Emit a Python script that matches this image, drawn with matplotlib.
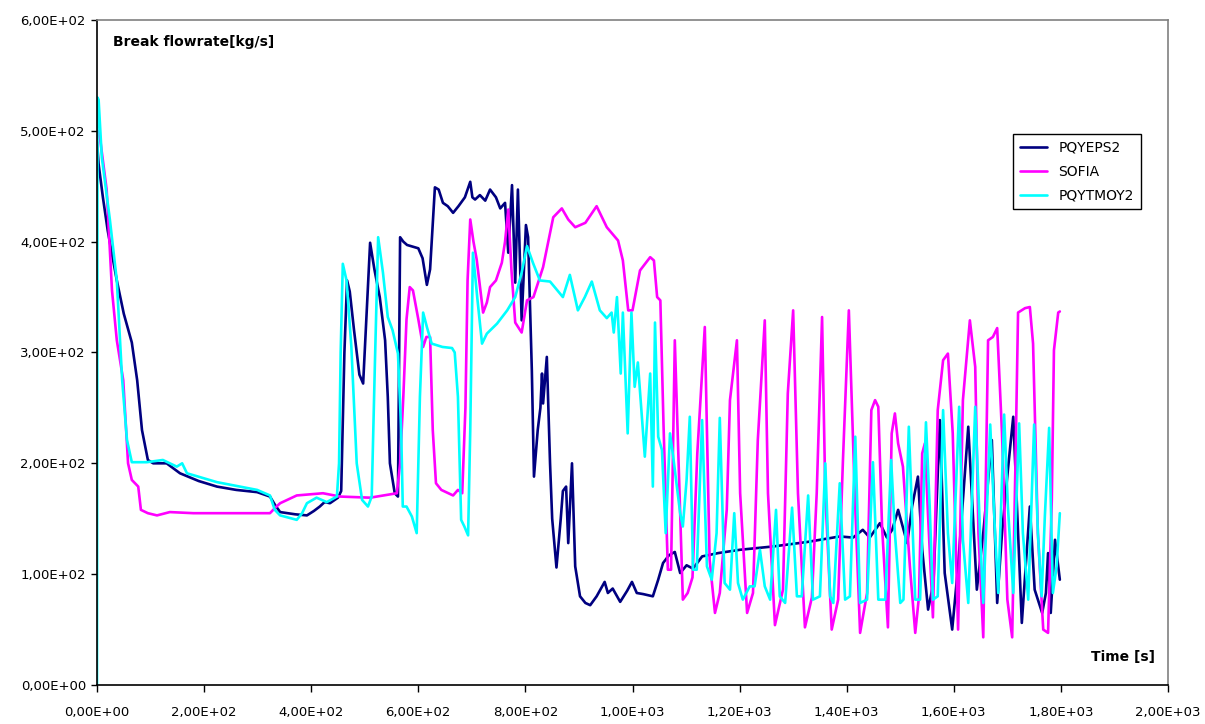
#!/usr/bin/env python3

"""Break flowrate comparison: PQYEPS2, SOFIA and PQYTMOY2."""

import matplotlib
matplotlib.use("Agg")
import matplotlib.pyplot as plt
from matplotlib.ticker import FuncFormatter, MultipleLocator


# PQYEPS2 (navy)
t_eps = [0, 3, 11, 20, 37, 50, 65, 75, 84, 95, 105, 130, 155, 190, 224, 260,
         299, 323, 333, 342, 370, 392, 405, 416, 425, 435, 450, 456, 462, 467,
         472, 480, 490, 497, 503, 510, 518, 528, 538, 543, 547, 556, 562, 566,
         572, 579, 600, 608, 616, 622, 631, 638, 646, 655, 665, 675, 687, 697,
         701, 706, 715, 725, 734, 745, 753, 762, 768, 775, 781, 786, 793, 801,
         805, 812, 816, 823, 828, 831, 833, 840, 846, 850, 858, 866, 870, 876,
         880, 887, 893, 902, 912, 921, 933, 948, 954, 963, 977, 990, 999, 1008,
         1020, 1038, 1048, 1057, 1068, 1079, 1089, 1101, 1113, 1130, 1160,
         1201, 1263, 1326, 1387, 1412, 1430, 1443, 1462, 1475, 1485, 1496, 1513,
         1522, 1533, 1541, 1552, 1562, 1574, 1583, 1597, 1608, 1627, 1643, 1655,
         1671, 1681, 1690, 1701, 1711, 1727, 1742, 1751, 1765, 1772, 1776, 1781,
         1789, 1798]
q_eps = [490, 470, 440, 410, 365, 335, 309, 275, 230, 203, 200, 200, 191, 184,
         179, 176, 174, 170, 162, 156, 154, 153, 157, 161, 165, 164, 169, 175,
         300, 365, 355, 320, 280, 272, 330, 399, 375, 350, 311, 260, 200, 173,
         170, 404, 400, 397, 394, 385, 361, 375, 449, 447, 435, 432, 426, 432,
         440, 454, 440, 438, 442, 437, 447, 440, 430, 435, 390, 451, 363, 447,
         329, 415, 404, 284, 188, 230, 250, 281, 254, 296, 200, 150, 106, 150,
         175, 179, 128, 200, 107, 80, 74, 72, 80, 93, 83, 87, 75, 85, 93, 83,
         82, 80, 95, 110, 117, 120, 101, 108, 105, 116, 119, 122, 125, 129, 134,
         133, 140, 133, 146, 133, 140, 158, 128, 161, 188, 122, 68, 92, 239,
         101, 50, 107, 233, 86, 137, 221, 74, 137, 194, 242, 56, 161, 86, 65,
         83, 119, 65, 131, 95]

# SOFIA (magenta)
t_sofia = [2, 6, 18, 28, 37, 49, 58, 65, 77, 82, 95, 112, 136, 180, 250, 323,
           333, 342, 373, 422, 454, 510, 560, 566, 572, 578, 584, 590, 600, 609,
           615, 622, 627, 633, 643, 665, 674, 682, 688, 692, 697, 703, 709, 721,
           728, 734, 745, 756, 762, 768, 774, 781, 793, 803, 815, 833, 852, 868,
           880, 893, 912, 933, 952, 973, 982, 992, 1000, 1014, 1033, 1040, 1046,
           1052, 1058, 1066, 1072, 1079, 1084, 1094, 1103, 1112, 1121, 1135,
           1144, 1154, 1163, 1176, 1182, 1195, 1201, 1214, 1225, 1234, 1247,
           1253, 1266, 1281, 1290, 1300, 1309, 1322, 1335, 1344, 1354, 1360,
           1372, 1384, 1393, 1404, 1415, 1425, 1438, 1446, 1453, 1459, 1466,
           1477, 1484, 1490, 1496, 1505, 1518, 1528, 1535, 1541, 1546, 1552,
           1561, 1570, 1580, 1589, 1598, 1608, 1617, 1630, 1640, 1646, 1655,
           1664, 1673, 1681, 1690, 1700, 1709, 1715, 1720, 1733, 1742, 1748,
           1757, 1767, 1776, 1783, 1787, 1795, 1798]
q_sofia = [500, 492, 447, 356, 311, 275, 200, 185, 179, 158, 155, 153, 156, 155,
           155, 155, 160, 164, 171, 173, 170, 169, 173, 200, 260, 330, 359, 356,
           330, 305, 314, 314, 230, 182, 176, 171, 176, 173, 250, 365, 420, 400,
           384, 336, 345, 359, 365, 381, 400, 429, 374, 327, 318, 347, 350, 377,
           422, 430, 420, 413, 417, 432, 413, 401, 383, 338, 338, 374, 386, 383,
           350, 347, 233, 104, 104, 311, 233, 77, 83, 97, 209, 323, 113, 65, 83,
           158, 257, 311, 173, 65, 83, 221, 329, 173, 54, 86, 263, 338, 173, 52,
           79, 173, 332, 173, 50, 77, 203, 338, 173, 47, 83, 248, 257, 251, 143,
           52, 227, 245, 218, 197, 107, 47, 80, 209, 218, 152, 61, 248, 293,
           299, 227, 50, 257, 329, 287, 137, 43, 311, 314, 322, 227, 77, 43, 197,
           336, 340, 341, 308, 137, 50, 47, 167, 302, 336, 337]

# PQYTMOY2 (cyan)
t_moy = [0, 1, 3, 9, 24, 37, 47, 56, 65, 93, 123, 149, 159, 168, 224, 299,
         323, 332, 342, 373, 383, 392, 410, 429, 448, 452, 455, 459, 466, 475,
         485, 495, 506, 513, 519, 525, 534, 543, 552, 562, 568, 571, 578, 588,
         597, 603, 609, 616, 625, 645, 663, 668, 674, 680, 686, 693, 697, 702,
         710, 719, 728, 747, 766, 781, 793, 803, 814, 827, 846, 858, 870, 883,
         898, 911, 924, 939, 952, 961, 965, 971, 978, 982, 991, 998, 1004, 1010,
         1023, 1033, 1038, 1042, 1048, 1055, 1062, 1070, 1076, 1089, 1094, 1101,
         1107, 1113, 1120, 1130, 1139, 1148, 1157, 1163, 1172, 1182, 1190, 1197,
         1206, 1219, 1228, 1238, 1247, 1257, 1268, 1275, 1285, 1298, 1307, 1316,
         1328, 1337, 1350, 1360, 1369, 1375, 1387, 1397, 1406, 1416, 1425, 1438,
         1449, 1459, 1472, 1483, 1490, 1500, 1506, 1516, 1528, 1537, 1548, 1555,
         1561, 1570, 1580, 1589, 1597, 1610, 1617, 1627, 1640, 1649, 1655, 1668,
         1677, 1683, 1694, 1701, 1711, 1722, 1729, 1739, 1750, 1757, 1764, 1770,
         1778, 1785, 1792, 1798]
q_moy = [0, 530, 528, 476, 420, 365, 275, 221, 201, 201, 203, 197, 200, 191,
         183, 176, 171, 158, 153, 149, 155, 164, 169, 165, 170, 200, 300, 380,
         365, 305, 200, 167, 161, 170, 291, 404, 372, 332, 320, 299, 230, 161,
         161, 152, 137, 260, 336, 323, 308, 305, 304, 300, 260, 149, 143, 135,
         230, 390, 350, 308, 317, 326, 338, 350, 372, 396, 381, 365, 364, 357,
         350, 370, 338, 350, 364, 338, 331, 336, 318, 350, 281, 336, 227, 336,
         269, 291, 206, 281, 179, 327, 224, 212, 137, 227, 206, 155, 143, 185,
         242, 104, 104, 239, 107, 95, 137, 241, 92, 86, 155, 92, 77, 89, 89,
         122, 89, 77, 158, 80, 74, 160, 80, 80, 171, 77, 80, 200, 80, 74, 182,
         77, 80, 224, 74, 77, 201, 77, 77, 203, 137, 74, 77, 233, 77, 77, 237,
         161, 77, 80, 248, 137, 92, 251, 131, 74, 251, 137, 74, 235, 137, 83,
         244, 161, 83, 236, 137, 77, 235, 137, 80, 152, 232, 83, 107, 155]

series = [("PQYEPS2", t_eps, q_eps, "#000080"),
          ("SOFIA", t_sofia, q_sofia, "#FF00FF"),
          ("PQYTMOY2", t_moy, q_moy, "#00FFFF")]


def sci_comma(value, pos):
    """Excel style 0,00E+00 labels."""
    return ("%.2E" % value).replace(".", ",")


fig = plt.figure(figsize=(12.05, 7.24), dpi=100)
ax = fig.add_axes([0.0805, 0.0539, 0.8888, 0.9185])

for name, t, q, color in series:
    ax.plot(t, q, color=color, linewidth=1.9, label=name,
            solid_joinstyle="round", solid_capstyle="round")

ax.set_xlim(0, 2000)
ax.set_ylim(0, 600)
ax.xaxis.set_major_locator(MultipleLocator(200))
ax.yaxis.set_major_locator(MultipleLocator(100))
ax.xaxis.set_major_formatter(FuncFormatter(sci_comma))
ax.yaxis.set_major_formatter(FuncFormatter(sci_comma))
ax.tick_params(axis="x", direction="out", length=5, width=1, pad=10,
               labelsize=9.5, colors="black")
ax.tick_params(axis="y", direction="out", length=4, width=1, pad=4,
               labelsize=9.5, colors="black")

ax.spines["left"].set_color("black")
ax.spines["bottom"].set_color("black")
ax.spines["top"].set_color("#808080")
ax.spines["right"].set_color("#808080")
for side in ax.spines:
    ax.spines[side].set_linewidth(1.2)

ax.text(0.015, 0.967, "Break flowrate[kg/s]", transform=ax.transAxes,
        fontsize=10, fontweight="bold", ha="left", va="center")
ax.text(0.988, 0.042, "Time [s]", transform=ax.transAxes,
        fontsize=10, fontweight="bold", ha="right", va="center")

leg = ax.legend(loc="upper right", bbox_to_anchor=(0.981, 0.839),
                fontsize=10, fancybox=False, framealpha=1,
                edgecolor="black", handlelength=2.0, borderpad=0.5,
                labelspacing=0.7)
leg.get_frame().set_linewidth(1.0)

fig.savefig("out.png", dpi=100)
